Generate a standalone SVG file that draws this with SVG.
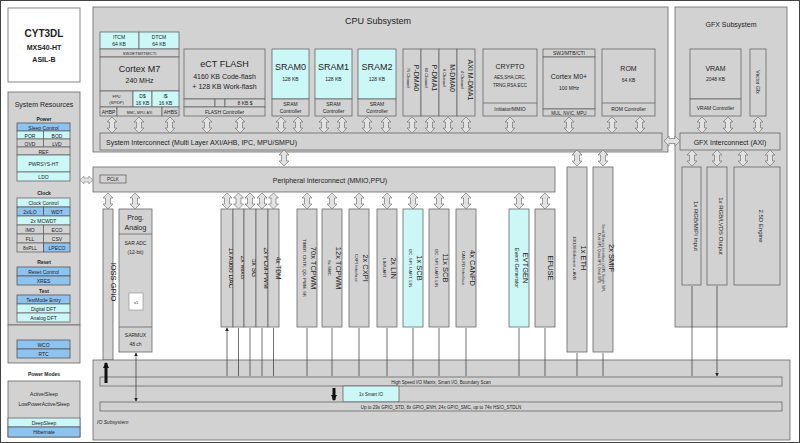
<svg xmlns="http://www.w3.org/2000/svg" xmlns:xlink="http://www.w3.org/1999/xlink" width="800" height="443" viewBox="0 0 800 443">
<style>
text{font-family:"Liberation Sans",Arial,sans-serif;fill:#222;text-anchor:middle}
.g{fill:#d2d2d2;stroke:#666;stroke-width:0.8}
.c{fill:#cbf7f7;stroke:#666;stroke-width:0.8}
.b{fill:#8fc3ef;stroke:#555;stroke-width:0.8}
.w{fill:#fff;stroke:#666;stroke-width:0.8}
.s{font-size:5px}.m{font-size:7px}.v{font-size:7.5px}.a{font-size:6.5px}.q{font-size:4.3px}.l{font-size:9px}.h{font-size:7px;font-weight:bold}
.t{stroke:#333;stroke-width:0.7;fill:none;marker-start:url(#a);marker-end:url(#a)}
.k{stroke:#111;stroke-width:3;fill:none;marker-start:url(#ka);marker-end:url(#ka)}
</style>
<defs>
<marker id="a" viewBox="0 0 6 6" refX="5" refY="3" markerWidth="5" markerHeight="5" orient="auto-start-reverse"><path d="M0,0L6,3L0,6Z" fill="#222"/></marker>
<marker id="ka" viewBox="0 0 6 6" refX="5" refY="3" markerWidth="2" markerHeight="2" orient="auto-start-reverse"><path d="M0,0L6,3L0,6Z" fill="#111"/></marker>
<path id="da" d="M0,0L5,5L2.5,5L2.5,11L5,11L0,16L-5,11L-2.5,11L-2.5,5L-5,5Z" fill="#e2e2e2" stroke="#777" stroke-width="0.7"/>
</defs>
<rect x="0.5" y="0.5" width="799" height="442" fill="#fff" stroke="#444"/>

<g id="title"><rect x="8" y="8" width="72" height="74" class="w"/>
<text x="44" y="37" font-size="10" font-weight="bold">CYT3DL</text><text x="44" y="50" class="h">MXS40-HT</text><text x="44" y="62" class="h">ASIL-B</text></g>

<g id="sysres"><rect x="8" y="92" width="72" height="233" class="g"/>
<text x="44" y="107" class="m">System Resources</text>
<text x="44" y="121" class="s" font-weight="bold">Power</text>
<rect x="17" y="123" width="53" height="8" class="b"/><text x="43.5" y="129.5" class="s">Sleep Control</text>
<rect x="17" y="131" width="26.5" height="8" class="c"/><text x="30" y="137.5" class="s">POR</text>
<rect x="43.5" y="131" width="26.5" height="8" class="c"/><text x="57" y="137.5" class="s">BOD</text>
<rect x="17" y="139" width="26.5" height="8" class="g"/><text x="30" y="145.5" class="s">OVD</text>
<rect x="43.5" y="139" width="26.5" height="8" class="g"/><text x="57" y="145.5" class="s">LVD</text>
<rect x="17" y="147" width="53" height="8" class="g"/><text x="43.5" y="153.5" class="s">REF</text>
<rect x="17" y="155" width="53" height="17" class="c"/><text x="43.5" y="166" class="s">PWRSYS-HT</text>
<rect x="17" y="172" width="53" height="9" class="c"/><text x="43.5" y="179" class="s">LDO</text>
<text x="44" y="195" class="s" font-weight="bold">Clock</text>
<rect x="17" y="198" width="53" height="9" class="c"/><text x="43.5" y="205" class="s">Clock Control</text>
<rect x="17" y="207" width="26.5" height="9" class="b"/><text x="30" y="214" class="s">2xILO</text>
<rect x="43.5" y="207" width="26.5" height="9" class="b"/><text x="57" y="214" class="s">WDT</text>
<rect x="17" y="216" width="53" height="9" class="c"/><text x="43.5" y="223" class="s">2x MCWDT</text>
<rect x="17" y="225" width="26.5" height="9" class="g"/><text x="30" y="232" class="s">IMO</text>
<rect x="43.5" y="225" width="26.5" height="9" class="g"/><text x="57" y="232" class="s">ECO</text>
<rect x="17" y="234" width="26.5" height="9" class="g"/><text x="30" y="241" class="s">FLL</text>
<rect x="43.5" y="234" width="26.5" height="9" class="g"/><text x="57" y="241" class="s">CSV</text>
<rect x="17" y="243" width="26.5" height="9" class="g"/><text x="30" y="250" class="s">8xPLL</text>
<rect x="43.5" y="243" width="26.5" height="9" class="b"/><text x="57" y="250" class="s">LPECO</text>
<text x="44" y="264" class="s" font-weight="bold">Reset</text>
<rect x="17" y="267" width="53" height="9" class="b"/><text x="43.5" y="274" class="s">Reset Control</text>
<rect x="17" y="276" width="53" height="9" class="b"/><text x="43.5" y="283" class="s">XRES</text>
<text x="44" y="293" class="s" font-weight="bold">Test</text>
<rect x="17" y="295" width="53" height="9" class="b"/><text x="43.5" y="302" class="s">TestMode Entry</text>
<rect x="17" y="304" width="53" height="9" class="c"/><text x="43.5" y="311" class="s">Digital DFT</text>
<rect x="17" y="313" width="53" height="9" class="c"/><text x="43.5" y="320" class="s">Analog DFT</text></g>

<g id="wco"><rect x="8" y="325" width="72" height="38" class="g"/>
<rect x="17" y="340" width="53" height="9" class="b"/><text x="43.5" y="347" class="s">WCO</text>
<rect x="17" y="349" width="53" height="9" class="b"/><text x="43.5" y="356" class="s">RTC</text></g>

<g id="pmodes"><text x="44" y="376" class="s" font-weight="bold">Power Modes</text>
<rect x="8" y="381" width="72" height="56" class="g"/>
<text x="44" y="396" class="s">Active/Sleep</text><text x="44" y="406" class="s">LowPowerActive/Sleep</text>
<rect x="8" y="418" width="72" height="9" class="c"/><text x="44" y="425" class="s">DeepSleep</text>
<rect x="8" y="427" width="72" height="10" class="b"/><text x="44" y="434" class="s">Hibernate</text></g>

<g id="cpu"><rect x="93" y="7" width="575" height="145" class="g"/>
<text x="378" y="24" class="l">CPU Subsystem</text></g>
<g id="m7">
<rect x="100" y="32" width="39" height="17" class="c"/><text x="119" y="39" class="s">ITCM</text><text x="119" y="46" class="s">64 KB</text>
<rect x="139" y="32" width="40" height="17" class="c"/><text x="159" y="39" class="s">DTCM</text><text x="159" y="46" class="s">64 KB</text>
<rect x="100" y="49" width="79" height="8" class="g"/><text x="139.5" y="55" font-size="4">SWJ/ETM/ITM/CTI</text>
<rect x="100" y="57" width="79" height="34" class="g"/><text x="139.5" y="72" class="l">Cortex M7</text><text x="139.5" y="83" class="m">240 MHz</text>
<rect x="100" y="91" width="33" height="16" class="g"/><text x="116.5" y="98" font-size="4">FPU</text><text x="116.5" y="104" font-size="4">(SP/DP)</text>
<rect x="133" y="91" width="19" height="16" class="c"/><text x="142.5" y="98" class="s">D$</text><text x="142.5" y="105" class="s">16 KB</text>
<rect x="152" y="91" width="27" height="16" class="c"/><text x="165.5" y="98" class="s">I$</text><text x="165.5" y="105" class="s">16 KB</text>
<rect x="100" y="107" width="17" height="9" class="g"/><text x="108.5" y="114" class="s">AHBP</text>
<rect x="117" y="107" width="45" height="9" class="g"/><text x="139.5" y="113.5" font-size="3.5">MMC, MPU, AXI</text>
<rect x="162" y="107" width="17" height="9" class="g"/><text x="170.5" y="114" class="s">AHBS</text></g>
<g id="flash"><rect x="184" y="49" width="81" height="50" class="g"/>
<text x="224.5" y="67" class="l">eCT FLASH</text><text x="224.5" y="79" class="m">4160 KB Code-flash</text><text x="224.5" y="89" class="m">+ 128 KB Work-flash</text>
<rect x="184" y="99" width="31" height="8" class="g"/><rect x="215" y="99" width="10" height="8" class="g"/><rect x="225" y="99" width="40" height="8" class="g"/><text x="245" y="105" class="s">8 KB $</text>
<rect x="184" y="107" width="81" height="9" class="g"/><text x="224.5" y="114" class="s">FLASH Controller</text></g>
<g id="sram0"><rect x="272" y="49" width="37" height="50" class="c"/><text x="290.5" y="70" class="l">SRAM0</text><text x="290.5" y="81" class="s">128 KB</text>
<rect x="272" y="99" width="37" height="17" class="g"/><text x="290.5" y="106" class="s">SRAM</text><text x="290.5" y="113" class="s">Controller</text></g>
<g id="sram1"><rect x="315" y="49" width="37" height="50" class="c"/><text x="333.5" y="70" class="l">SRAM1</text><text x="333.5" y="81" class="s">128 KB</text>
<rect x="315" y="99" width="37" height="17" class="g"/><text x="333.5" y="106" class="s">SRAM</text><text x="333.5" y="113" class="s">Controller</text></g>
<g id="sram2"><rect x="358" y="49" width="38" height="50" class="c"/><text x="377" y="70" class="l">SRAM2</text><text x="377" y="81" class="s">128 KB</text>
<rect x="358" y="99" width="38" height="17" class="g"/><text x="377" y="106" class="s">SRAM</text><text x="377" y="113" class="s">Controller</text></g>
<g id="dma">
<rect x="403" y="49" width="18" height="67" class="g"/><rect x="421" y="49" width="18" height="67" class="g"/><rect x="439" y="49" width="18" height="67" class="g"/><rect x="457" y="49" width="18" height="67" class="g"/>
<text transform="translate(414,78) rotate(90)" class="m">P-DMA0</text><text transform="translate(407,78) rotate(90)" font-size="4">76 Channel</text>
<text transform="translate(432,78) rotate(90)" class="m">P-DMA1</text><text transform="translate(425,78) rotate(90)" font-size="4">84 Channel</text>
<text transform="translate(450,78) rotate(90)" class="m">M-DMA0</text><text transform="translate(443,78) rotate(90)" font-size="4">8 Channel</text>
<text transform="translate(468,80) rotate(90)" class="m">AXI M-DMA1</text><text transform="translate(461,80) rotate(90)" font-size="4">4 Channel</text></g>
<g id="crypto"><rect x="483" y="49" width="54" height="67" class="g"/>
<text x="510" y="69" class="m">CRYPTO</text><text x="510" y="79" font-size="4.5">AES,SHA,CRC,</text><text x="510" y="87" font-size="4.5">TRNG,RSA,ECC</text>
<line x1="483" y1="103" x2="537" y2="103" stroke="#666" stroke-width="0.8"/><text x="510" y="111" class="s">Initiator/MMIO</text></g>
<g id="m0"><rect x="543" y="49" width="52" height="8" class="g"/><text x="569" y="55" class="s">SWJ/MTB/CTI</text>
<rect x="543" y="57" width="52" height="52" class="g"/><text x="569" y="79" class="m">Cortex M0+</text><text x="569" y="90" class="s">100 MHz</text>
<rect x="543" y="109" width="52" height="7" class="g"/><text x="569" y="114.5" font-size="4.5">MUL, NVIC, MPU</text></g>
<g id="rom"><rect x="602" y="49" width="53" height="67" class="g"/><text x="628.5" y="71" class="m">ROM</text><text x="628.5" y="82" class="s">64 KB</text>
<line x1="602" y1="103" x2="655" y2="103" stroke="#666" stroke-width="0.8"/><text x="628.5" y="111" class="s">ROM Controller</text></g>
<g id="sysic"><rect x="100" y="133" width="562" height="17" class="g"/><text x="106" y="145" class="m" style="text-anchor:start">System Interconnect (Multi Layer AXI/AHB, IPC, MPU/SMPU)</text></g>

<g id="gfx"><rect x="675" y="7" width="112" height="320" class="g"/><text x="731" y="27" class="m">GFX Subsystem</text>
<rect x="690" y="49" width="51" height="50" class="g"/><text x="715.5" y="71" class="m">VRAM</text><text x="715.5" y="81" class="s">2048 KB</text>
<rect x="690" y="99" width="51" height="17" class="g"/><text x="715.5" y="110" class="s">VRAM Controller</text>
<rect x="750" y="49" width="16" height="67" class="g"/><text transform="translate(756,82) rotate(90)" class="s">Vector Gfx</text>
<rect x="680" y="133" width="100" height="17" class="g"/><text x="730" y="145" class="m">GFX Interconnect (AXI)</text>
<rect x="682" y="167" width="19" height="118" class="g"/><text transform="translate(693.5,226) rotate(90)" font-size="6">1x RGB/MIPI Input</text>
<rect x="707" y="167" width="20" height="118" class="g"/><text transform="translate(719,226) rotate(90)" font-size="6">1x RGB/LVDS Output</text>
<rect x="734" y="167" width="46" height="118" class="g"/><text transform="translate(759,226) rotate(90)" font-size="6">2.5D Engine</text></g>

<g id="periic"><rect x="93" y="167" width="462" height="25" class="g"/>
<rect x="100" y="175" width="26" height="8" class="g"/><text x="113" y="181" font-size="4.5">PCLK</text>
<text x="330" y="183" class="m">Peripheral Interconnect (MMIO,PPU)</text></g>

<g id="ioss"><rect x="103" y="209" width="10" height="151" class="g"/><text transform="translate(110.5,282) rotate(90)" class="v">IOSS GPIO</text></g>
<g id="analog"><rect x="119" y="209" width="33" height="143" class="g"/>
<line x1="119" y1="234" x2="152" y2="234" stroke="#666" stroke-width="0.8"/><line x1="119" y1="327" x2="152" y2="327" stroke="#666" stroke-width="0.8"/>
<text x="135.5" y="220" class="m">Prog.</text><text x="135.5" y="230" class="m">Analog</text>
<text x="135.5" y="245" class="s">SAR ADC</text><text x="135.5" y="254" class="s">(12-bit)</text>
<rect x="129" y="293" width="14" height="17" fill="#fff" stroke="#888" stroke-width="0.6"/><text x="136" y="304" font-size="4">x1</text>
<text x="135.5" y="337" class="s">SARMUX</text><text x="135.5" y="346" class="s">48 ch</text></g>
<g id="audio">
<rect x="221" y="209" width="12" height="118" class="g"/><text transform="translate(229.3,268) rotate(90)" class="a">1x Audio DAC</text>
<rect x="233" y="209" width="11" height="118" class="g"/><text transform="translate(240.8,268) rotate(90)" class="a">2x Mixer</text>
<rect x="244" y="209" width="12" height="118" class="g"/><text transform="translate(252.3,268) rotate(90)" class="a">5x SG</text>
<rect x="256" y="209" width="12" height="118" class="g"/><text transform="translate(264.3,268) rotate(90)" class="a">2x PCM-PWM</text>
<rect x="268" y="209" width="11" height="118" class="g"/><text transform="translate(275.8,268) rotate(90)" class="a">4x TDM</text></g>
<g id="tcpwm70"><rect x="297" y="209" width="20" height="118" class="g"/><text transform="translate(311,268) rotate(90)" class="v">70x TCPWM</text><text transform="translate(303,268) rotate(90)" class="q">TIMER, CNTR, QD, PWM, SR</text></g>
<g id="tcpwm12"><rect x="322" y="209" width="20" height="118" class="g"/><text transform="translate(336,268) rotate(90)" class="v">12x TCPWM</text><text transform="translate(328,268) rotate(90)" class="q">6x SMC</text></g>
<g id="cxpi"><rect x="349" y="209" width="20" height="118" class="g"/><text transform="translate(363,268) rotate(90)" class="v">2x CXPI</text><text transform="translate(355,268) rotate(90)" class="q">CXPI Interface</text></g>
<g id="lin"><rect x="377" y="209" width="20" height="118" class="g"/><text transform="translate(391,268) rotate(90)" class="v">2x LIN</text><text transform="translate(383,268) rotate(90)" class="q">LIN/UART</text></g>
<g id="scb1"><rect x="403" y="209" width="20" height="118" class="c"/><text transform="translate(417,268) rotate(90)" class="v">1x SCB</text><text transform="translate(409,268) rotate(90)" class="q">I2C, SPI, UART, LIN</text></g>
<g id="scb11"><rect x="429" y="209" width="20" height="118" class="g"/><text transform="translate(443,268) rotate(90)" class="v">11x SCB</text><text transform="translate(435,268) rotate(90)" class="q">I2C, SPI, UART, LIN</text></g>
<g id="canfd"><rect x="456" y="209" width="20" height="118" class="g"/><text transform="translate(470,268) rotate(90)" class="v">4x CANFD</text><text transform="translate(462,268) rotate(90)" class="q">CAN-FD Interface</text></g>
<g id="evtgen"><rect x="509" y="209" width="20" height="118" class="c"/><text transform="translate(523,268) rotate(90)" class="v">EVTGEN</text><text transform="translate(515,268) rotate(90)" font-size="5.5">Event Generator</text></g>
<g id="efuse"><rect x="535" y="209" width="20" height="118" class="g"/><text transform="translate(547.5,268) rotate(90)" class="v">EFUSE</text></g>
<g id="eth"><rect x="567" y="167" width="20" height="185" class="g"/><text transform="translate(581,258) rotate(90)" class="v">1x ETH</text><text transform="translate(573,258) rotate(90)" class="q">10/100 Ethernet + AVB</text></g>
<g id="smif"><rect x="593" y="167" width="20" height="185" class="g"/><text transform="translate(609,258) rotate(90)" class="v">2x SMIF</text><text transform="translate(602,258) rotate(90)" font-size="3.6">Serial Memory Interface (xSPI, Single SPI,</text><text transform="translate(597.5,258) rotate(90)" font-size="3.6">Dual SPI, Quad SPI, Octal SPI)</text></g>

<g id="io"><rect x="93" y="360" width="697" height="80" class="g"/>
<rect x="100" y="377" width="682" height="9" class="g"/><text x="441" y="384" font-size="4.5">High Speed I/O Matrix, Smart I/O, Boundary Scan</text>
<rect x="343" y="386" width="56" height="16" class="c"/><text x="371" y="396" font-size="4.5">1x Smart IO</text>
<rect x="100" y="402" width="682" height="9" class="g"/><text x="441" y="409" font-size="4.5">Up to 29x GPIO_STD, 8x GPIO_ENH, 24x GPIO_SMC, up to 74x HSIO_STDLN</text>
<text x="97" y="424" class="s" style="text-anchor:start" font-style="italic">IO Subsystem</text></g>

<g id="connectors">
<use xlink:href="#da" x="112" y="117"/><use xlink:href="#da" x="139" y="117"/><use xlink:href="#da" x="170" y="117"/><use xlink:href="#da" x="207" y="117"/><use xlink:href="#da" x="240" y="117"/>
<use xlink:href="#da" x="281" y="117"/><use xlink:href="#da" x="298" y="117"/><use xlink:href="#da" x="324" y="117"/><use xlink:href="#da" x="342" y="117"/><use xlink:href="#da" x="367" y="117"/><use xlink:href="#da" x="386" y="117"/>
<use xlink:href="#da" x="412" y="117"/><use xlink:href="#da" x="430" y="117"/><use xlink:href="#da" x="448" y="117"/><use xlink:href="#da" x="466" y="117"/>
<use xlink:href="#da" x="510" y="117"/><use xlink:href="#da" x="569" y="117"/><use xlink:href="#da" x="612" y="117"/><use xlink:href="#da" x="640" y="117"/>
<use xlink:href="#da" x="284" y="150"/><use xlink:href="#da" x="577" y="150"/><use xlink:href="#da" x="603" y="150"/>
<use xlink:href="#da" x="702" y="117"/><use xlink:href="#da" x="728" y="117"/><use xlink:href="#da" x="758" y="117"/>
<use xlink:href="#da" x="692" y="150"/><use xlink:href="#da" x="717" y="150"/><use xlink:href="#da" x="743" y="150"/><use xlink:href="#da" x="770" y="150"/>
<use xlink:href="#da" transform="translate(664,141) rotate(-90)"/>
<use xlink:href="#da" transform="translate(80,180) rotate(-90) scale(0.8)"/>
<use xlink:href="#da" x="108" y="193"/><use xlink:href="#da" x="135" y="193"/>
<use xlink:href="#da" x="227" y="193"/><use xlink:href="#da" x="238.5" y="193"/><use xlink:href="#da" x="250" y="193"/><use xlink:href="#da" x="262" y="193"/><use xlink:href="#da" x="273.5" y="193"/>
<use xlink:href="#da" x="307" y="193"/><use xlink:href="#da" x="332" y="193"/><use xlink:href="#da" x="359" y="193"/><use xlink:href="#da" x="387" y="193"/><use xlink:href="#da" x="413" y="193"/><use xlink:href="#da" x="439" y="193"/><use xlink:href="#da" x="466" y="193"/><use xlink:href="#da" x="519" y="193"/><use xlink:href="#da" x="545" y="193"/>
<path class="t" d="M227,328V376M238.5,328V376M250,328V376M262,328V376M273.5,328V376M307,328V376M332,328V376M359,328V376M387,328V376M413,328V376M439,328V376M466,328V376M519,328V376M545,328V376M577,353V376M603,353V376M692,286V376M717,286V376"/>
<path class="t" d="M136,353V401"/>
<path class="k" d="M106,363V383M334,388V400"/>
</g>
</svg>
